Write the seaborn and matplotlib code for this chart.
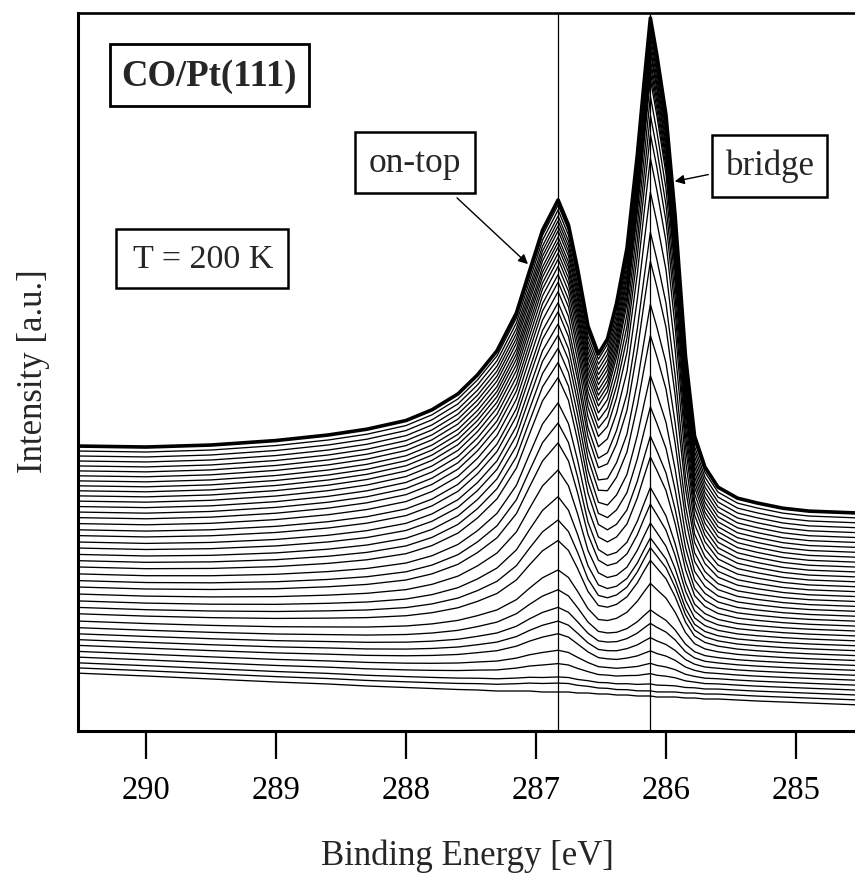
import numpy as np
import pandas as pd
import matplotlib
matplotlib.use("Agg")
import matplotlib.pyplot as plt
import seaborn as sns
from matplotlib.patches import Rectangle

# ---------------- data ----------------
# binding-energy grid [eV]
energy = [290.55, 290.0, 289.5, 289.0, 288.6, 288.3, 288.0, 287.8, 287.6, 287.45,
          287.3, 287.15, 287.05, 286.95, 286.83, 286.75, 286.68, 286.6, 286.52, 286.45,
          286.38, 286.3, 286.22, 286.17, 286.12, 286.07, 286.0, 285.93, 285.85, 285.78,
          285.7, 285.6, 285.45, 285.3, 285.1, 284.9, 284.5]
# clean-surface background (a.u.)
background = [58, 55, 52, 49, 47, 45, 43.5, 42.5, 41.5, 41,
              40, 40, 40, 39, 39, 39, 38, 38, 37, 37,
              36, 36, 35, 35, 35, 34, 34, 34, 33, 33,
              32, 32, 31, 30, 29, 28, 26]
# normalised line profiles (peak = 1)
ontop_profile = [0.081, 0.085, 0.097, 0.115, 0.135, 0.158, 0.19, 0.23, 0.29, 0.36,
                 0.45, 0.59, 0.744, 0.899, 1.0, 0.888, 0.698, 0.438, 0.271, 0.186,
                 0.136, 0.097, 0.07, 0.058, 0.047, 0.039, 0.031, 0.023, 0.016, 0.012,
                 0.008, 0.004, 0, 0, 0, 0, 0]
bridge_profile = [0.03, 0.032, 0.036, 0.042, 0.047, 0.051, 0.055, 0.058, 0.061, 0.064,
                  0.068, 0.072, 0.076, 0.08, 0.089, 0.097, 0.11, 0.131, 0.165, 0.243,
                  0.348, 0.485, 0.7, 0.854, 1.0, 0.928, 0.806, 0.599, 0.308, 0.141,
                  0.08, 0.04, 0.021, 0.013, 0.004, 0, 0]
# peak heights of each spectrum (a.u.), in order of CO uptake
ontop_height = [0, 4, 5, 13, 21, 32, 39, 47, 59, 72, 95, 110, 128, 149, 170, 184, 197, 216,
                224, 231, 236, 240, 244, 246, 249, 251, 252, 254, 255, 255, 256, 256,
                256, 257, 257, 257, 257, 258, 258, 258]
bridge_height = [0, 0, 2, 7, 12, 19, 27, 36, 44, 65, 82, 89, 93, 102, 115, 126, 151, 166,
                 190, 216, 251, 277, 315, 339, 374, 403, 422, 436, 450, 462, 464, 466,
                 467, 469, 469, 470, 471, 471, 472, 474]
ontop_position = 286.83
bridge_position = 286.12
tick_values = [290, 289, 288, 287, 286, 285]

# ---------------- build long table ----------------
waterfall_step = 4.92
E = np.array(energy)
rows = []
for i, (a, b) in enumerate(zip(ontop_height, bridge_height)):
    inten = (np.array(background) + i * waterfall_step
             + a * np.array(ontop_profile) + b * np.array(bridge_profile))
    rows.append(pd.DataFrame({"E": E, "I": inten, "spectrum": i}))
df = pd.concat(rows, ignore_index=True)
last = len(ontop_height) - 1

# ---------------- plot ----------------
sns.set_theme(style="white")
plt.rcParams["font.family"] = ["Liberation Serif", "DejaVu Serif"]

W, H = 855, 875
fig = plt.figure(figsize=(W / 100, H / 100), dpi=100)
ax = fig.add_axes([78 / W, 144 / H, 777 / W, 718 / H])

sns.lineplot(data=df[df.spectrum < last], x="E", y="I", units="spectrum",
             estimator=None, sort=False, color="black", lw=0.95, ax=ax, legend=False)
sns.lineplot(data=df[df.spectrum == last], x="E", y="I", estimator=None, sort=False,
             color="black", lw=2.6, ax=ax, legend=False)

ax.axvline(ontop_position, color="black", lw=0.9, zorder=1)
ax.axvline(bridge_position, color="black", lw=0.9, zorder=1)

ax.set_xlim(290.523, 284.546)
ax.set_ylim(0, 718)
ax.set_xticks(tick_values)
ax.set_xticklabels([str(t) for t in tick_values], fontsize=23.5)
ax.set_yticks([])
ax.set_xlabel("")
ax.set_ylabel("")
ax.tick_params(axis="x", direction="out", length=20, width=1.6, pad=12,
               colors="black", bottom=True)
for side in ["left", "bottom"]:
    ax.spines[side].set_linewidth(2.2)
    ax.spines[side].set_color("black")
ax.spines["top"].set_linewidth(1.9)
ax.spines["top"].set_color("black")
ax.spines["right"].set_visible(False)


def fx(px):
    return px / W


def fy(py):
    return 1 - py / H


def box(x0, y0, x1, y1, lw=1.8):
    fig.patches.append(Rectangle((fx(x0), fy(y1)), fx(x1) - fx(x0), fy(y0) - fy(y1),
                                 transform=fig.transFigure, fill=True, fc="white",
                                 ec="black", lw=lw, zorder=5))


box(110, 44, 309, 106, lw=2.0)
fig.text(fx(209), fy(77), "CO/Pt(111)", fontsize=26.5, fontweight="bold",
         ha="center", va="center", zorder=6)
box(116, 229, 288, 288)
fig.text(fx(203), fy(260), "T = 200 K", fontsize=24.5, ha="center", va="center", zorder=6)
box(355, 132, 475, 193)
fig.text(fx(415), fy(163), "on-top", fontsize=25.5, ha="center", va="center", zorder=6)
box(712, 135, 827, 197)
fig.text(fx(770), fy(166), "bridge", fontsize=25, ha="center", va="center", zorder=6)

arrow = dict(arrowstyle="-|>", color="black", lw=1.0, mutation_scale=14)
ax.annotate("", xy=(fx(530), fy(266)), xycoords="figure fraction",
            xytext=(fx(455), fy(196)), textcoords="figure fraction", arrowprops=arrow)
ax.annotate("", xy=(fx(672), fy(182)), xycoords="figure fraction",
            xytext=(fx(711), fy(174)), textcoords="figure fraction", arrowprops=arrow)

fig.text(fx(467), fy(856), "Binding Energy [eV]", fontsize=25, ha="center", va="center")
fig.text(fx(33), fy(371), "Intensity [a.u.]", fontsize=25, rotation=90,
         ha="center", va="center")

fig.savefig("out.png", dpi=100)
